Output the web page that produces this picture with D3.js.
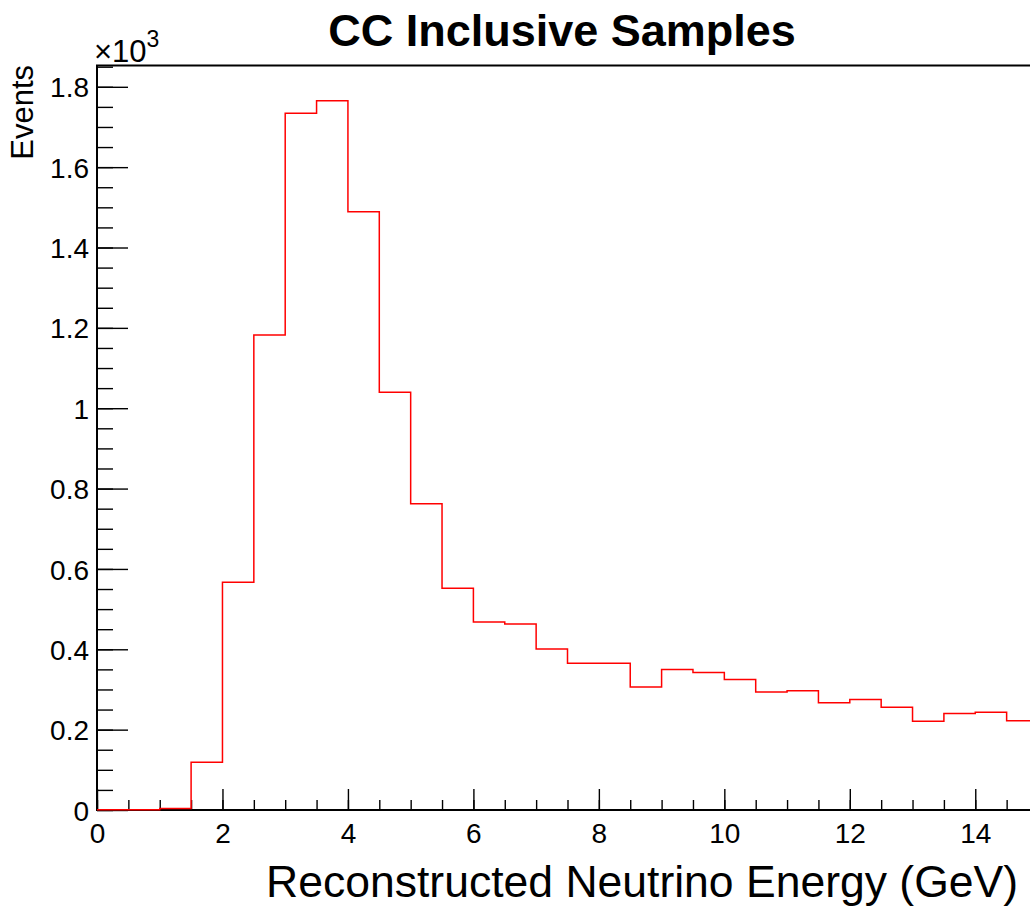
<!DOCTYPE html>
<html>
<head>
<meta charset="utf-8">
<script src="https://cdn.jsdelivr.net/npm/d3@7"></script>
<style>
  body { margin: 0; background: #fff; }
  svg { display: block; font-family: "Liberation Sans", Arial, sans-serif; }
</style>
</head>
<body>
<div id="chart"></div>
<script>
const width = 1030;
const height = 912;

// bin edges 0..15 GeV, 0.5 GeV wide
const binEdges = d3.range(0, 15.001, 0.5);
const binCounts = [0.5, 0.5, 4, 119, 567, 1182, 1734, 1765, 1489, 1040,
    762, 552, 468, 463, 401, 365, 365, 306, 350, 342,
    325, 294, 297, 267, 275, 256, 221, 240, 243, 222];

const xMajorTicks = [0, 2, 4, 6, 8, 10, 12, 14];
const xMinorTicks = d3.range(0, 15.001, 0.5);
const yMajorTicks = [0, 200, 400, 600, 800, 1000, 1200, 1400, 1600, 1800];
const yMinorTicks = d3.range(0, 1851, 50);

const titleText = "CC Inclusive Samples";
const xTitle = "Reconstructed Neutrino Energy (GeV)";
const yTitle = "Events";

const svg = d3.select("#chart").append("svg")
    .attr("width", width)
    .attr("height", height);

const xScale = d3.scaleLinear().domain([0, 15]).range([97, 1038]);
const yScale = d3.scaleLinear().domain([0, 1853]).range([810, 65.5]);

// minor and major ticks, drawn inward like ROOT
svg.append("g")
    .attr("transform", `translate(0,${yScale(0)})`)
    .call(d3.axisBottom(xScale).tickValues(xMinorTicks).tickSize(-10).tickFormat(""))
    .call(g => g.select(".domain").remove());

svg.append("g")
    .attr("class", "x-major")
    .attr("transform", `translate(0,${yScale(0)})`)
    .call(d3.axisBottom(xScale).tickValues(xMajorTicks).tickSize(-21).tickPadding(0))
    .call(g => g.select(".domain").remove());

svg.append("g")
    .attr("transform", `translate(${xScale(0)},0)`)
    .call(d3.axisLeft(yScale).tickValues(yMinorTicks).tickSize(-16).tickFormat(""))
    .call(g => g.select(".domain").remove());

svg.append("g")
    .attr("class", "y-major")
    .attr("transform", `translate(${xScale(0)},0)`)
    .call(d3.axisLeft(yScale).tickValues(yMajorTicks).tickSize(-31).tickPadding(0)
        .tickFormat(d => d3.format("~g")(d / 1000)))
    .call(g => g.select(".domain").remove());

svg.selectAll(".tick line")
    .attr("stroke", "#000")
    .attr("stroke-width", 1.4);

svg.selectAll(".x-major .tick text")
    .attr("font-size", 28)
    .attr("fill", "#000")
    .attr("font-family", "Liberation Sans, Arial, sans-serif")
    .attr("y", 0)
    .attr("dy", 0)
    .attr("transform", "translate(0,33)");

svg.selectAll(".y-major .tick text")
    .attr("font-size", 28)
    .attr("fill", "#000")
    .attr("font-family", "Liberation Sans, Arial, sans-serif")
    .attr("x", -8)
    .attr("dy", "0.36em");

// frame
svg.append("rect")
    .attr("x", xScale(0))
    .attr("y", yScale.range()[1])
    .attr("width", xScale(15) - xScale(0))
    .attr("height", yScale(0) - yScale.range()[1])
    .attr("fill", "none")
    .attr("stroke", "#000")
    .attr("stroke-width", 2);

// histogram outline, on top of the frame
const line = d3.line().curve(d3.curveStepAfter);
const pts = binCounts.map((v, i) => [xScale(binEdges[i]), yScale(v)]);
pts.push([xScale(binEdges[binEdges.length - 1]), yScale(binCounts[binCounts.length - 1])]);

svg.append("path")
    .attr("d", line(pts))
    .attr("fill", "none")
    .attr("stroke", "#ff0000")
    .attr("stroke-width", 1.5);

// titles
svg.append("text")
    .attr("x", 562)
    .attr("y", 46)
    .attr("text-anchor", "middle")
    .attr("font-size", 45)
    .attr("font-weight", "bold")
    .text(titleText);

svg.append("text")
    .attr("x", 1018)
    .attr("y", 897)
    .attr("text-anchor", "end")
    .attr("font-size", 44.5)
    .text(xTitle);

svg.append("text")
    .attr("transform", `translate(33,65) rotate(-90)`)
    .attr("text-anchor", "end")
    .attr("font-size", 31)
    .text(yTitle);

const exp = svg.append("text")
    .attr("x", 94)
    .attr("y", 62)
    .attr("font-size", 31);
exp.append("tspan").text("\u00d710");
exp.append("tspan").attr("font-size", 23).attr("dy", -15).text("3");
</script>
</body>
</html>
